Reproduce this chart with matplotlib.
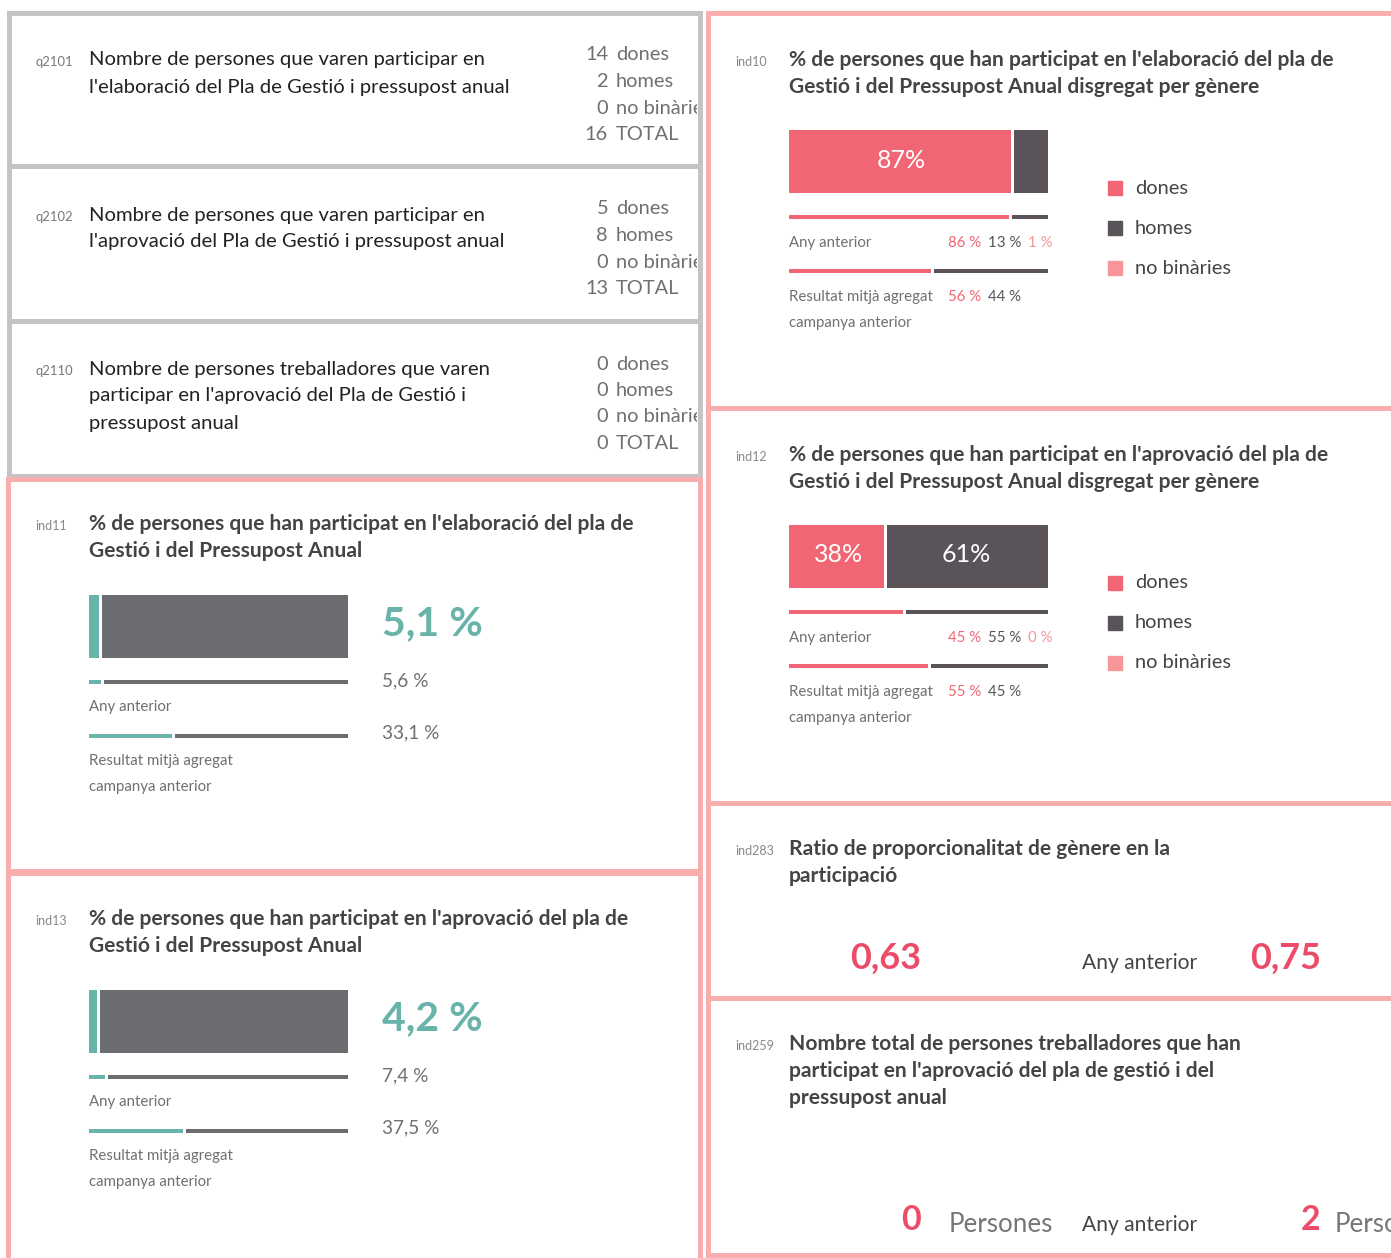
import matplotlib
matplotlib.use("Agg")
import matplotlib.pyplot as plt
from matplotlib.patches import Rectangle

plt.rcParams["font.family"] = ["Lato", "DejaVu Sans"]

W, H = 1391, 1258

# ---------------------------------------------------------------------------
# Data
# ---------------------------------------------------------------------------
COUNT_LABELS = ["dones", "homes", "no binàries", "TOTAL"]
q2101_counts = [14, 2, 0, 16]
q2102_counts = [5, 8, 0, 13]
q2110_counts = [0, 0, 0, 0]

GENDER_LABELS = ["dones", "homes", "no binàries"]
ind10_now = [87, 13, 0]
ind10_prev = [86, 13, 1]
ind10_avg = [56, 44]
ind12_now = [38, 61, 1]
ind12_prev = [45, 55, 0]
ind12_avg = [55, 45]

ind11_vals = [5.1, 5.6, 33.1]   # actual, any anterior, mitjà agregat
ind13_vals = [4.2, 7.4, 37.5]

ind283_vals = [0.63, 0.75]
ind259_vals = [0, 2]

# ---------------------------------------------------------------------------
# Style
# ---------------------------------------------------------------------------
PINK = "#f06674"
DARK = "#5a535a"
LIGHT_PINK = "#f59799"
TEAL = "#68b4aa"
GRAY_BAR = "#6b6c70"
BORDER_GRAY = "#c4c4c4"
BORDER_PINK = "#f9aeae"
TITLE_C = "#444444"
TEXT_C = "#707070"
BIG_PINK = "#ec4c6a"
GENDER_COLORS = [PINK, DARK, LIGHT_PINK]


def pt(px):
    return px / (100 / 72)


fig = plt.figure(figsize=(W / 100, H / 100), dpi=100)
ax = fig.add_axes([0, 0, 1, 1])
ax.set_xlim(0, W)
ax.set_ylim(H, 0)
ax.axis("off")


def panel(x0, y0, x1, y1, color):
    ax.add_patch(Rectangle((x0, y0), x1 - x0, y1 - y0, facecolor="white",
                           edgecolor=color, linewidth=pt(5), zorder=1))
    return Rectangle((x0, y0), x1 - x0 - 3, y1 - y0, transform=ax.transData)


def txt(x, y, s, px, color=TEXT_C, weight="normal", ha="left", clip=None, **kw):
    t = ax.text(x, y, s, fontsize=pt(px), color=color, fontweight=weight,
                ha=ha, va="center", zorder=5, **kw)
    if clip is not None:
        t.set_clip_path(clip)
        t.set_clip_on(True)
    return t


def title(x, y, lines, code, bold=True):
    txt(x - 54, y + 2, code, 12.5, color="#888888")
    for i, line in enumerate(lines):
        txt(x, y + i * 27, line, 21 if bold else 20,
            color=TITLE_C if bold else "#222222",
            weight="bold" if bold else "normal")


def segments(y, values, colors, h, x0=789, width=259, gap=3):
    # segments narrower than the gap are not visible in the original
    shown = [i for i, v in enumerate(values) if v / 100 * width > gap]
    left = x0
    for i, (v, c) in enumerate(zip(values, colors)):
        w = v / 100 * width
        if i in shown:
            last = i == shown[-1]
            seg = (x0 + width - left) if last else w - gap
            ax.barh(y, seg, left=left, height=h, color=c, zorder=3)
        left += w


# ---------------------------------------------------------------------------
# Left column: counts
# ---------------------------------------------------------------------------
count_panels = [
    ((9, 13, 700, 166), "q2101",
     ["Nombre de persones que varen participar en",
      "l'elaboració del Pla de Gestió i pressupost anual"], q2101_counts, 60, 55),
    ((9, 166, 700, 321), "q2102",
     ["Nombre de persones que varen participar en",
      "l'aprovació del Pla de Gestió i pressupost anual"], q2102_counts, 215, 209),
    ((9, 321, 700, 476), "q2110",
     ["Nombre de persones treballadores que varen",
      "participar en l'aprovació del Pla de Gestió i",
      "pressupost anual"], q2110_counts, 369, 364),
]
for box, code, lines, counts, ty, cy in count_panels:
    clip = panel(*box, BORDER_GRAY)
    txt(35, ty + 2, code, 13, color="#777777")
    for i, line in enumerate(lines):
        txt(89, ty + i * 27, line, 20.3, color="#222222")
    for i, (n, lab) in enumerate(zip(counts, COUNT_LABELS)):
        txt(608, cy + i * 26.5, str(n), 20, ha="right", clip=clip)
        txt(616, cy + i * 26.5, lab, 20, clip=clip)

# ---------------------------------------------------------------------------
# Left column: teal percentage panels
# ---------------------------------------------------------------------------
pct_panels = [
    ((8, 479, 700, 871), "ind11",
     ["% de persones que han participat en l'elaboració del pla de",
      "Gestió i del Pressupost Anual"], ind11_vals, 524),
    ((8, 873, 700, 1264), "ind13",
     ["% de persones que han participat en l'aprovació del pla de",
      "Gestió i del Pressupost Anual"], ind13_vals, 919),
]
for box, code, lines, vals, ty in pct_panels:
    panel(*box, BORDER_PINK)
    title(89, ty, lines, code)
    now, prev, avg = vals
    by = ty + 102
    segments(by, [now, 100 - now], [TEAL, GRAY_BAR], 63, x0=89)
    txt(382, by - 2, f"{now:.1f} %".replace(".", ","), 41, color=TEAL, weight="bold")
    segments(by + 56, [prev, 100 - prev], [TEAL, GRAY_BAR], 4, x0=89)
    txt(382, by + 55, f"{prev:.1f} %".replace(".", ","), 19)
    txt(89, by + 81, "Any anterior", 15)
    segments(by + 110, [avg, 100 - avg], [TEAL, GRAY_BAR], 4, x0=89)
    txt(382, by + 107, f"{avg:.1f} %".replace(".", ","), 19)
    txt(89, by + 135, "Resultat mitjà agregat", 15)
    txt(89, by + 161, "campanya anterior", 15)

# ---------------------------------------------------------------------------
# Right column: gender split panels
# ---------------------------------------------------------------------------
gender_panels = [
    ((708, 13, 1400, 408), "ind10",
     ["% de persones que han participat en l'elaboració del pla de",
      "Gestió i del Pressupost Anual disgregat per gènere"],
     ind10_now, ind10_prev, ind10_avg, 60),
    ((708, 408, 1400, 803), "ind12",
     ["% de persones que han participat en l'aprovació del pla de",
      "Gestió i del Pressupost Anual disgregat per gènere"],
     ind12_now, ind12_prev, ind12_avg, 455),
]
for box, code, lines, now, prev, avg, ty in gender_panels:
    panel(*box, BORDER_PINK)
    title(789, ty, lines, code)
    by = ty + 101
    segments(by, now, GENDER_COLORS, 63)
    left = 789
    for v in now:
        w = v / 100 * 259
        if v >= 20:
            txt(left + w / 2, by - 1, f"{v}%", 25, color="white", ha="center")
        left += w
    segments(by + 56, prev, GENDER_COLORS, 4)
    txt(789, by + 82, "Any anterior", 15)
    for i, v in enumerate(prev):
        txt(948 + i * 40, by + 82, f"{v} %", 15, color=GENDER_COLORS[i])
    segments(by + 110, avg, GENDER_COLORS, 4)
    txt(789, by + 136, "Resultat mitjà agregat", 15)
    for i, v in enumerate(avg):
        txt(948 + i * 40, by + 136, f"{v} %", 15, color=GENDER_COLORS[i])
    txt(789, by + 162, "campanya anterior", 15)
    for i, lab in enumerate(GENDER_LABELS):
        ly = ty + 128 + i * 40
        ax.add_patch(Rectangle((1108, ly - 7), 14, 14, color=GENDER_COLORS[i], zorder=3))
        txt(1135, ly, lab, 20, color="#444444")

# ---------------------------------------------------------------------------
# Right column: ratio and total
# ---------------------------------------------------------------------------
panel(708, 803, 1400, 998, BORDER_PINK)
title(789, 849, ["Ratio de proporcionalitat de gènere en la", "participació"], "ind283")
txt(886, 958, f"{ind283_vals[0]:.2f}".replace(".", ","), 36, color=BIG_PINK,
    weight="bold", ha="center")
txt(1082, 963, "Any anterior", 21, color="#444444")
txt(1286, 958, f"{ind283_vals[1]:.2f}".replace(".", ","), 36, color=BIG_PINK,
    weight="bold", ha="center")

panel(708, 998, 1400, 1255, BORDER_PINK)
title(789, 1044, ["Nombre total de persones treballadores que han",
                  "participat en l'aprovació del pla de gestió i del",
                  "pressupost anual"], "ind259")
txt(911, 1220, str(ind259_vals[0]), 34, color=BIG_PINK, weight="bold", ha="center")
txt(949, 1224, "Persones", 26, color="#777777")
txt(1082, 1225, "Any anterior", 21, color="#444444")
txt(1311, 1220, str(ind259_vals[1]), 34, color=BIG_PINK, weight="bold", ha="center")
txt(1335, 1224, "Persones", 26, color="#777777")

fig.savefig("out.png", dpi=100)
